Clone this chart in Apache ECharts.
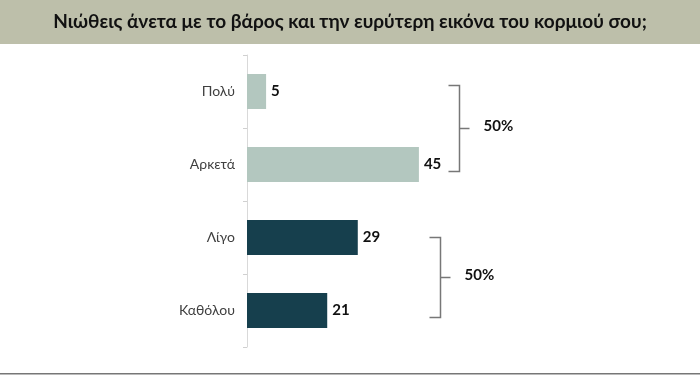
<!DOCTYPE html>
<html><head><meta charset="utf-8">
<script src="https://cdn.jsdelivr.net/npm/echarts@6/dist/echarts.min.js"></script>
<style>html,body{margin:0;padding:0;background:#fff}#c{width:700px;height:379px}</style>
</head><body><div id="c"></div>
<script>
var title = 'Νιώθεις άνετα με το βάρος και την ευρύτερη εικόνα του κορμιού σου;';
var categories = ['Πολύ', 'Αρκετά', 'Λίγο', 'Καθόλου'];
var values = [5, 45, 29, 21];
var groupOf = [0, 0, 1, 1];
var groupColors = ['#b3c7bf', '#163f4d'];
var groupTotals = ['50%', '50%'];
var groupFirst = [0, 2];
var groupLast = [1, 3];
var bracketAt = [55.5, 50.5];

var chart = echarts.init(document.getElementById('c'));
var font = 'Lato, "Open Sans", sans-serif';
chart.setOption({
  animation: false,
  grid: {left: 247, right: 71, top: 55, bottom: 32},
  xAxis: {type: 'value', min: 0, max: 100, show: false},
  yAxis: {
    type: 'category', data: categories, inverse: true,
    axisLine: {show: true, lineStyle: {color: '#d9d9d9', width: 1}},
    axisTick: {show: true, length: 4, lineStyle: {color: '#d0d0d0'}},
    axisLabel: {color: '#404040', fontSize: 14, fontFamily: font, margin: 12}
  },
  series: [{
    type: 'bar', barWidth: 35,
    data: values.map(function (v, i) { return {value: v, itemStyle: {color: groupColors[groupOf[i]]}}; }),
    label: {show: true, position: 'right', distance: 5, color: '#111', fontWeight: 'bold', fontSize: 15, fontFamily: font}
  }]
});

var graphics = [
  {type: 'rect', shape: {x: 0, y: 0, width: 700, height: 44}, style: {fill: '#bdbfaa'}, z: 0},
  {type: 'text', x: 350, y: 22, style: {text: title, fill: '#111', font: 'bold 19px ' + font, textAlign: 'center', textVerticalAlign: 'middle'}},
  {type: 'rect', shape: {x: 0, y: 373, width: 700, height: 1.5}, style: {fill: '#777'}}
];
var lineStyle = {stroke: '#777', lineWidth: 1.5};
for (var g = 0; g < groupTotals.length; g++) {
  var x = Math.round(chart.convertToPixel({xAxisIndex: 0}, bracketAt[g])) + 0.5;
  var y1 = chart.convertToPixel({yAxisIndex: 0}, groupFirst[g]) - (g === 0 ? 6 : 0);
  var y2 = chart.convertToPixel({yAxisIndex: 0}, groupLast[g]) + 7;
  var ym = (y1 + y2) / 2;
  graphics.push({type: 'polyline', shape: {points: [[x - 11, y1], [x, y1], [x, y2], [x - 11, y2]]}, style: lineStyle});
  graphics.push({type: 'line', shape: {x1: x, y1: ym, x2: x + 10, y2: ym}, style: lineStyle});
  graphics.push({type: 'text', x: x + 24, y: ym - 2, style: {text: groupTotals[g], fill: '#111', font: 'bold 15px ' + font, textVerticalAlign: 'middle'}});
}
chart.setOption({graphic: graphics});
</script></body></html>
